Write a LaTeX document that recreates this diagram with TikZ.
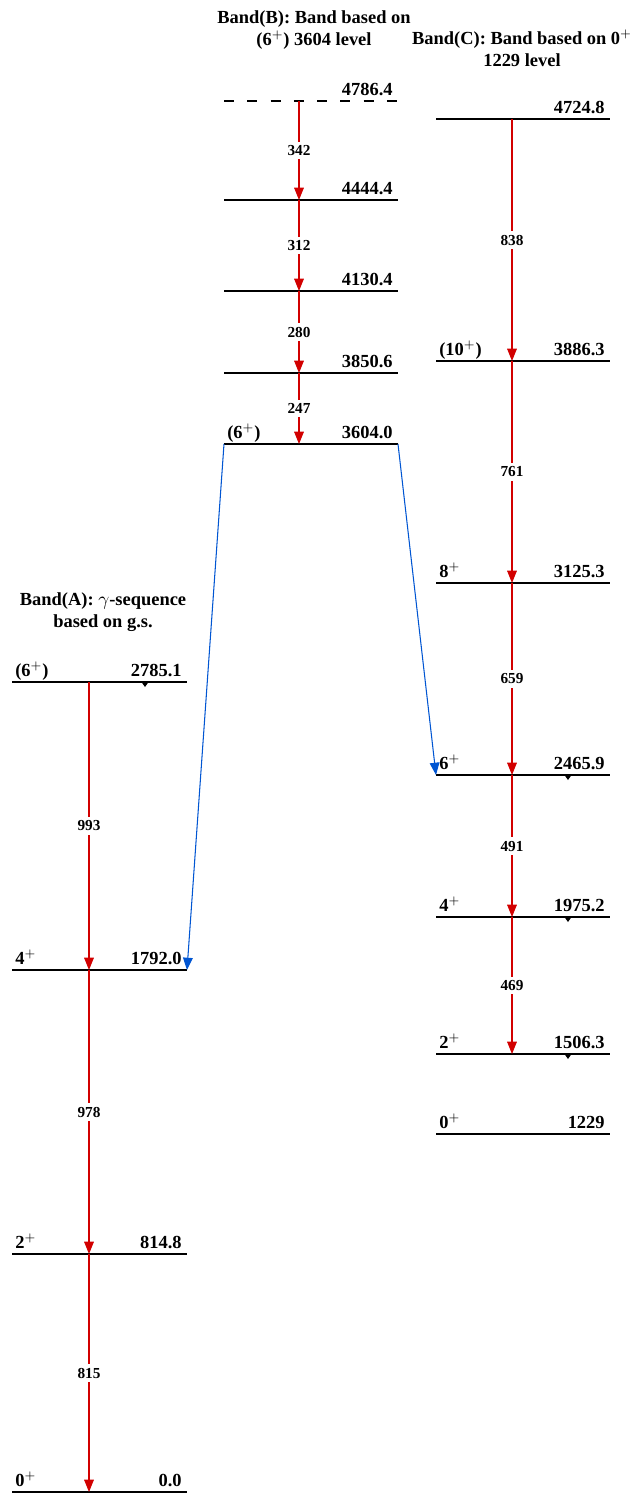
\documentclass[tikz,border=0pt]{standalone}
\usepackage{fontspec}
\setmainfont{Liberation Serif}
\usetikzlibrary{arrows.meta}
\definecolor{gamred}{RGB}{210,0,0}
\definecolor{linkblue}{RGB}{0,85,210}

\begin{document}
\begin{tikzpicture}[x=0.02cm, y=-0.02cm, >={Triangle[width=5.5pt,length=7pt]},
    level/.style={line width=0.7pt},
    ground/.style={line width=1.6pt},
    dashlevel/.style={line width=0.7pt, dash pattern=on 5.7pt off 7.55pt},
    gam/.style={gamred, line width=0.6pt, ->},
    link/.style={linkblue, line width=0.6pt, ->},
    lab/.style={black, fill=white, inner sep=2pt, font=\bfseries\fontsize{8.7}{10}\selectfont},
    en/.style={anchor=base east, inner sep=0pt, font=\bfseries\fontsize{10.5}{12}\selectfont},
    spin/.style={anchor=base west, inner sep=0pt, font=\bfseries\fontsize{10.5}{12}\selectfont},
    title/.style={align=center, anchor=north, inner sep=0pt, font=\bfseries\fontsize{10.5}{12.5}\selectfont}]

    \useasboundingbox (0,0) rectangle (637,1495);

    % --- LIVELLI (nome/sinistra/destra/transizione/quota/stile/spin/energia) ---
    \foreach \nm/\xa/\xb/\xt/\yy/\st/\sp/\en in {
        A0/12/187/89/1492/ground/0$^+$/0.0,
        A2/12/187/89/1254/level/2$^+$/814.8,
        A4/12/187/89/970/level/4$^+$/1792.0,
        A6/12/187/89/682/level/(6$^+$)/2785.1,
        B6/224/398/299/444/level/(6$^+$)/3604.0,
        B7/224/398/299/373/level//3850.6,
        B8/224/398/299/291/level//4130.4,
        B9/224/398/299/200/level//4444.4,
        B10/224/398/299/101/dashlevel//4786.4,
        C0/436/610/512/1134/level/0$^+$/1229,
        C2/436/610/512/1054/level/2$^+$/1506.3,
        C4/436/610/512/917/level/4$^+$/1975.2,
        C6/436/610/512/775/level/6$^+$/2465.9,
        C8/436/610/512/583/level/8$^+$/3125.3,
        C10/436/610/512/361/level/(10$^+$)/3886.3,
        C12/436/610/512/119/level//4724.8} {
        \coordinate (\nm L) at (\xa,\yy);
        \coordinate (\nm R) at (\xb,\yy);
        \coordinate (\nm T) at (\xt,\yy);
        \draw[\st] (\nm L) -- (\nm R);
        \node[spin] (\nm s) at (\xa+3,\yy-6) {\sp};
        \node[en] (\nm e) at (\xb-5,\yy-6) {\en};
    }

    % --- TRANSIZIONI GAMMA (rosso) ---
    \foreach \a/\b/\eg in {A6/A4/993, A4/A2/978, A2/A0/815,
        B10/B9/342, B9/B8/312, B8/B7/280, B7/B6/247,
        C12/C10/838, C10/C8/761, C8/C6/659, C6/C4/491, C4/C2/469} {
        \draw[gam] (\a T) -- node[lab] {\eg} (\b T);
    }

    % --- COLLEGAMENTI TRA BANDE (blu) ---
    \draw[link] (B6L) -- (A4R);
    \draw[link] (B6R) -- (C6L);

    % --- USCITE NON MOSTRATE (triangolini neri) ---
    \foreach \nm/\dx in {A6/133, C6/132, C4/132, C2/132} {
        \fill[shift={(\nm L)}] (\dx-3.5,0) -- (\dx+3.5,0) -- (\dx,5) -- cycle;
    }

    % --- TITOLI DELLE BANDE ---
    \node[title] (titleB) at (314,10) {Band(B): Band based on\\(6$^+$) 3604 level};
    \node[title] (titleC) at (522,30) {Band(C): Band based on 0$^+$\\1229 level};
    \node[title] (titleA) at (103,592) {Band(A): $\gamma$-sequence\\based on g.s.};

\end{tikzpicture}
\end{document}
